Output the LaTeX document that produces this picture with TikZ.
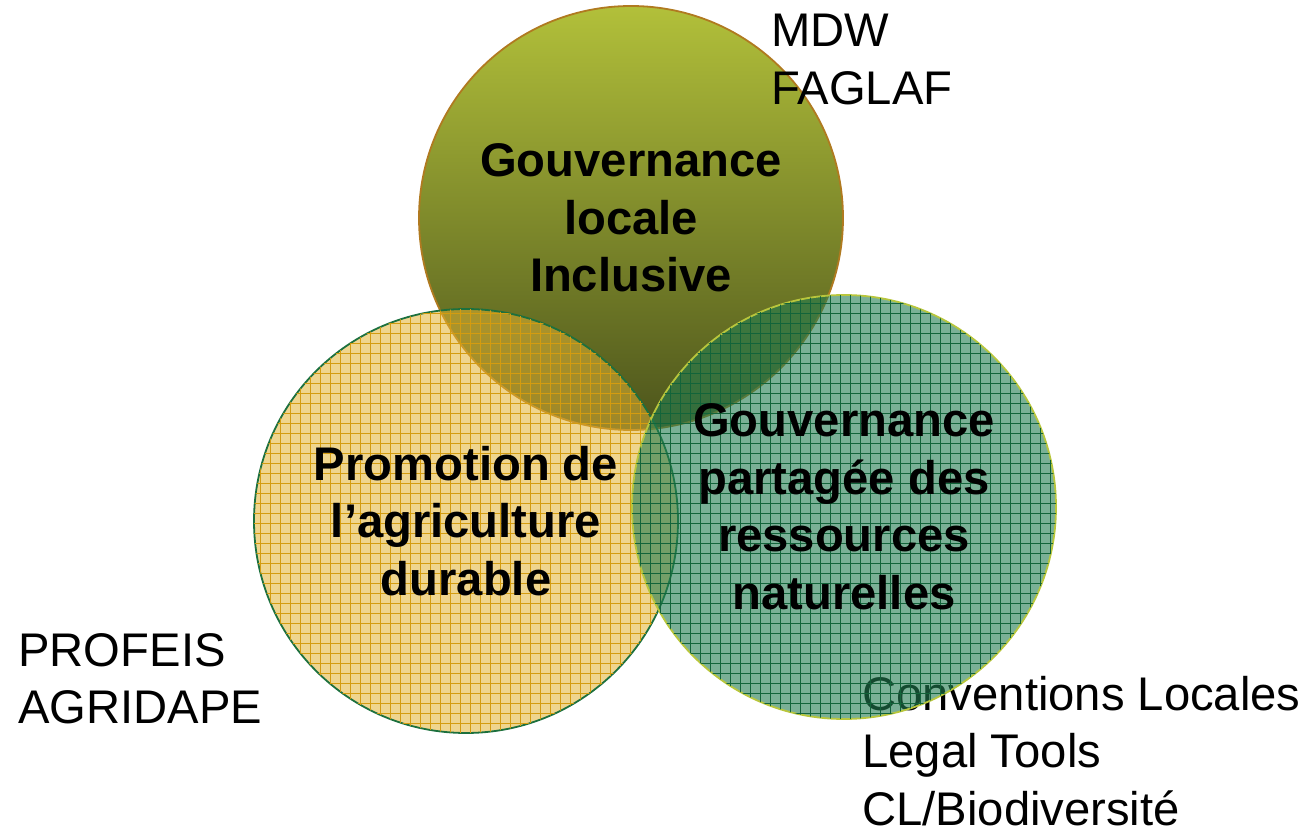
\documentclass[tikz,border=0pt]{standalone}
\usepackage{fontspec}
\setmainfont{Liberation Sans}
\usepackage{tikz}
\usetikzlibrary{patterns.meta,positioning}
\definecolor{olivhell}{RGB}{178,192,58}
\definecolor{olivdunkel}{RGB}{76,84,28}
\definecolor{olivrand}{RGB}{176,122,32}
\definecolor{gelbfuell}{RGB}{226,178,50}
\definecolor{gelbgitter}{RGB}{212,156,16}
\definecolor{gelbrand}{RGB}{28,112,62}
\definecolor{gruenfuell}{RGB}{34,124,80}
\definecolor{gruengitter}{RGB}{18,100,58}
\definecolor{gruenrand}{RGB}{184,198,60}
\newcommand{\titel}{\fontsize{23.6}{28.75}\selectfont\bfseries}
\newcommand{\liste}{\fontsize{23.6}{28.6}\selectfont}
\tikzset{
  kreis/.style={circle,minimum size=212pt,inner sep=0pt,line width=0.9pt,
    align=center,font=\titel,text opacity=1},
  gitter/.style={postaction={pattern={Hatch[angle=0,distance=5pt,line width=0.4pt]},
    pattern color=#1,fill opacity=0.6}},
  stichwort/.style={anchor=north west,inner sep=0pt,align=left,font=\liste}
}
\begin{document}
\begin{tikzpicture}[x=0.5pt,y=-0.5pt]
%Koordinaten in Pixeln des Bildes (1312 x 833), Radius der Kreise 212
  \pgfmathsetmacro{\R}{212}
  \useasboundingbox (0,0) rectangle (1312,833);
%oberer Kreis mit Verlauf
  \node[kreis,draw=olivrand,top color=olivhell,bottom color=olivdunkel] (lokal) at (631,218)
    {Gouvernance\\locale\\Inclusive};
%linker Kreis, halbdurchsichtig mit Gitter
  \node[kreis,draw=gelbrand,fill=gelbfuell,fill opacity=0.55,gitter=gelbgitter] (agri) at (466,521)
    {Promotion de\\l’agriculture\\durable};
%Text unten rechts liegt unter dem gruenen Kreis
  \node[stichwort] (konv) at (862,676) {Conventions Locales\\Legal Tools\\CL/Biodiversité};
  \node[kreis,draw=gruenrand,fill=gruenfuell,fill opacity=0.6,gitter=gruengitter] (ressourcen) at (844,507)
    {Gouvernance\\partagée des\\ressources\\naturelles};
  \node[stichwort] (mdw) at (771,14) {MDW\\FAGLAF};
  \node[stichwort] (profeis) at (18,633) {PROFEIS\\AGRIDAPE};
\end{tikzpicture}
\end{document}
